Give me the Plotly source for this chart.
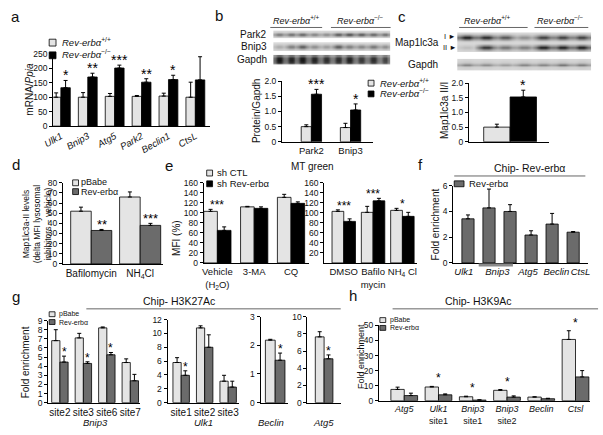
import plotly.graph_objects as go

# ---------------- data ----------------
# panel a : mRNA / Ppia
a_genes = ["Ulk1", "Bnip3", "Atg5", "Park2", "Beclin1", "CtsL"]
a_wt = [100, 100, 103, 103, 104, 100]
a_wt_err = [15, 16, 10, 3, 10, 52]
a_ko = [133, 170, 201, 152, 161, 160]
a_ko_err = [25, 13, 10, 12, 15, 80]
a_sig = ["*", "**", "***", "**", "*", ""]

# panel b : protein / Gapdh
b_proteins = ["Park2", "Bnip3"]
b_wt = [0.50, 0.47]
b_wt_err = [0.06, 0.14]
b_ko = [1.57, 1.05]
b_ko_err = [0.16, 0.20]
b_sig = ["***", "*"]
b_blot_rows = ["Park2", "Bnip3", "Gapdh"]
b_lanes_park2 = [0.5, 0.55, 0.6, 0.45, 0.4, 0.65, 0.7, 0.65, 0.6, 0.55]
b_lanes_bnip3 = [0.3, 0.6, 0.8, 0.5, 0.4, 0.8, 0.6, 0.55, 0.65, 0.5]
b_lanes_gapdh = [0.95, 0.9, 0.95, 0.9, 0.85, 0.85, 0.9, 0.8, 0.85, 0.75]

# panel c : Map1lc3a II/I
c_wt = [0.50]
c_wt_err = [0.10]
c_ko = [1.53]
c_ko_err = [0.23]
c_sig = ["*"]
c_lanes_I = [0.95, 0.9, 0.7, 0.4, 0.8, 0.8, 0.8]
c_lanes_II = [0.15, 0.85, 0.55, 0.5, 0.95, 0.95, 0.95]
c_lanes_gapdh = [0.55, 0.5, 0.4, 0.55, 0.55, 0.65, 0.6]

# panel d
d_treat = ["Bafilomycin", "NH<sub>4</sub>Cl"]
d_pbabe = [52, 66]
d_pbabe_err = [4, 5]
d_rev = [33, 38]
d_rev_err = [1, 2]
d_sig = ["**", "***"]

# panel e
e1_treat = ["Vehicle<br>(H<sub>2</sub>O)", "3-MA", "CQ"]
e1_ctl = [103, 112, 131]
e1_ctl_err = [4, 1, 6]
e1_sh = [65, 109, 119]
e1_sh_err = [7, 3, 3]
e1_sig = ["***", "", ""]
e2_treat = ["DMSO", "Bafilo<br>mycin", "NH<sub>4</sub> Cl"]
e2_ctl = [103, 101, 105]
e2_ctl_err = [3, 12, 4]
e2_sh = [83, 124, 93]
e2_sh_err = [5, 5, 8]
e2_sig = ["***", "***", "*"]

# panel f
f_tick_labels = ["Ulk1", "Bnip3", "Atg5", "Beclin", "CtsL"]
f_vals = [3.43, 4.28, 4.0, 2.17, 3.02, 2.39]
f_err = [0.3, 1.46, 0.53, 0.33, 0.83, 0.05]

# panel g
g1_sites = ["site2", "site3", "site6", "site7"]
g1_pb = [6.8, 7.1, 8.2, 4.4]
g1_pb_err = [1.2, 0.5, 0.1, 0.4]
g1_rev = [4.45, 4.3, 5.25, 2.4]
g1_rev_err = [0.65, 0.18, 0.25, 0.7]
g1_sig = ["*", "*", "*", ""]
g2_sites = ["site1", "site2", "site3"]
g2_pb = [5.8, 10.8, 3.1]
g2_pb_err = [0.7, 0.3, 0.85]
g2_rev = [3.95, 8.0, 2.25]
g2_rev_err = [0.65, 1.8, 0.85]
g2_sig = ["*", "", ""]
g3_pb = [2.18]
g3_pb_err = [0.03]
g3_rev = [1.48]
g3_rev_err = [0.25]
g3_sig = ["*"]
g4_pb = [7.65]
g4_pb_err = [0.6]
g4_rev = [5.1]
g4_rev_err = [0.45]
g4_sig = ["*"]
g_genes = ["Bnip3", "Ulk1", "Beclin", "Atg5"]

# panel h
h_sites = ["<i>Atg5</i>", "<i>Ulk1</i><br>site1", "<i>Bnip3</i><br>site1",
           "<i>Bnip3</i><br>site2", "<i>Beclin</i>", "<i>Ctsl</i>"]
h_pb = [7.5, 9.1, 2.6, 6.9, 2.4, 40.7]
h_pb_err = [1.5, 0.4, 0.4, 0.5, 0.2, 5.8]
h_rev = [3.4, 3.9, 0.4, 2.4, 1.3, 15.8]
h_rev_err = [1.6, 0.6, 0.2, 0.8, 0.3, 4.2]
h_sig = ["", "*", "*", "*", "", "*"]

# ---------------- styling / helpers ----------------
W, H = 603, 435
FONT = "Arial, 'Liberation Sans', Helvetica, sans-serif"
PALE = "#e4e4e4"
DARK = "#6b6b6b"
BLACK = "#000000"
REV = "<i>Rev-erbα</i>"

fig = go.Figure()
n_axes = [0]
shapes = []
annots = []


def P(x):
    return x / W


def Q(y):
    return 1 - y / H


def make_axes(box, xr=None, yr=None, ytickvals=None, yticktext=None,
              xtickvals=None, xticktext=None, yfont=8.5, xfont=9.5,
              xtickangle=0, hidden=False):
    n_axes[0] += 1
    n = n_axes[0]
    s = "" if n == 1 else str(n)
    x0, x1, y0, y1 = box
    xa = dict(domain=[P(x0), P(x1)], anchor="y" + s, fixedrange=True,
              showgrid=False, zeroline=False)
    ya = dict(domain=[Q(y1), Q(y0)], anchor="x" + s, fixedrange=True,
              showgrid=False, zeroline=False)
    if hidden:
        xa.update(visible=False)
        ya.update(visible=False)
    else:
        xa.update(range=xr, showline=True, linecolor="black", linewidth=1,
                  ticks="", tickvals=xtickvals if xtickvals is not None else [],
                  ticktext=xticktext, tickangle=xtickangle,
                  tickfont=dict(size=xfont, color="#111", family=FONT))
        ya.update(range=yr, showline=True, linecolor="black", linewidth=1,
                  ticks="outside", ticklen=3, tickwidth=1, tickcolor="black",
                  tickvals=ytickvals, ticktext=yticktext, tickangle=0,
                  tickfont=dict(size=yfont, color="#111", family=FONT))
    fig.update_layout({"xaxis" + s: xa, "yaxis" + s: ya})
    return "x" + s, "y" + s


def bar(xa, ya, vals, errs, color, offset, width, xs=None):
    if xs is None:
        xs = list(range(len(vals)))
    fig.add_trace(go.Bar(
        x=xs, y=vals, offset=offset, width=width, xaxis=xa, yaxis=ya,
        marker=dict(color=color, line=dict(color="black", width=0.8)),
        error_y=dict(type="data", array=errs, arrayminus=[0] * len(errs),
                     symmetric=False, color="black", thickness=1, width=2),
        showlegend=False, hoverinfo="skip"))


def stars(xa, ya, xs, tops, labels, size=13, yshift=-5):
    for x, t, s in zip(xs, tops, labels):
        if s:
            annots.append(dict(x=x, y=t, xref=xa, yref=ya, text=s, showarrow=False,
                               yanchor="bottom", yshift=yshift,
                               font=dict(size=size, family=FONT, color="black")))


def text(x, y, t, size=10, xanchor="center", angle=0, color="#111"):
    annots.append(dict(x=P(x), y=Q(y), xref="paper", yref="paper", text=t,
                       showarrow=False, xanchor=xanchor, yanchor="middle",
                       textangle=angle, font=dict(size=size, family=FONT, color=color)))


def line(x0, y0, x1, y1, color="#666", width=1):
    shapes.append(dict(type="line", xref="paper", yref="paper", x0=P(x0), x1=P(x1),
                       y0=Q(y0), y1=Q(y1), line=dict(color=color, width=width)))


def swatch(x0, y0, x1, y1, color):
    shapes.append(dict(type="rect", xref="paper", yref="paper", x0=P(x0), x1=P(x1),
                       y0=Q(y1), y1=Q(y0), fillcolor=color,
                       line=dict(color="black", width=0.8)))


GRAYS = [[0, "#dadada"], [0.5, "#7a7a7a"], [1, "#0c0c0c"]]


def blot(box, bands):
    """bands: list (top->bottom) of (lane intensities, vertical profile)"""
    xa, ya = make_axes(box, hidden=True)
    rows = []
    for lanes, prof in bands:
        cols = []
        for v in lanes:
            cols += [v * 0.6, v, v, v * 0.6]
        for p in prof:
            rows.append([c * p for c in cols])
    rows = rows[::-1]
    fig.add_trace(go.Heatmap(z=rows, xaxis=xa, yaxis=ya, colorscale=GRAYS, zmin=0,
                             zmax=1, showscale=False, zsmooth="best", hoverinfo="skip"))


BAND = [0.05, 0.5, 1.0, 0.5, 0.05]
THIN = [0.05, 0.15, 0.85, 0.15, 0.05]
FULL = [0.6, 0.95, 1.0, 0.95, 0.6]

# ---------------- panel a ----------------
xa, ya = make_axes((43, 203, 50, 124), [-0.29, 5.53], [0, 250],
                   ytickvals=[0, 50, 100, 150, 200, 250],
                   xtickvals=list(range(6)), xticktext=[f"<i>{g}</i>" for g in a_genes],
                   xtickangle=-30)
w = 0.35
bar(xa, ya, a_wt, a_wt_err, PALE, -w, w)
bar(xa, ya, a_ko, a_ko_err, BLACK, 0, w)
stars(xa, ya, [i + w / 2 for i in range(6)], [v + e for v, e in zip(a_ko, a_ko_err)], a_sig, size=14)
text(5, 12, "a", 15)
text(18, 86, "mRNA/<i>Ppia</i>", 10, angle=-90)
swatch(39, 35, 46, 42, PALE)
swatch(39, 48, 46, 55, BLACK)
text(50, 37.5, REV + "<sup>+/+</sup>", 9.5, "left")
text(50, 50.5, REV + "<sup>−/−</sup>", 9.5, "left")

# ---------------- panel b ----------------
text(213, 11, "b", 15)
text(292, 15, REV + "<sup>+/+</sup>", 9)
text(357, 15, REV + "<sup>−/−</sup>", 9)
line(265, 23, 318, 23)
line(327, 23, 388, 23)
blot((268, 388, 26, 34), [(b_lanes_park2, BAND)])
blot((268, 388, 38, 47), [(b_lanes_bnip3, BAND)])
blot((268, 388, 51, 61), [(b_lanes_gapdh, FULL)])
for lbl, yy in zip(b_blot_rows, [30, 42.5, 56]):
    text(264, yy, lbl, 10, "right")
xa, ya = make_axes((277, 370, 78, 140), [-0.75, 1.575], [0, 2],
                   ytickvals=[0, 0.5, 1, 1.5, 2], yticktext=["0", "0.5", "1.0", "1.5", "2.0"],
                   xtickvals=[0, 1], xticktext=b_proteins)
w = 0.26
bar(xa, ya, b_wt, b_wt_err, PALE, -w, w)
bar(xa, ya, b_ko, b_ko_err, BLACK, 0, w)
stars(xa, ya, [i + w / 2 for i in range(2)], [v + e for v, e in zip(b_ko, b_ko_err)], b_sig, size=14)
text(251, 108, "Protein/Gapdh", 10, angle=-90)
swatch(365, 77, 371, 83, PALE)
swatch(365, 88, 371, 94, BLACK)
text(375, 79.5, REV + "<sup>+/+</sup>", 9.5, "left")
text(375, 90.5, REV + "<sup>−/−</sup>", 9.5, "left")

# ---------------- panel c ----------------
text(400, 12, "c", 15)
text(487, 15, REV + "<sup>+/+</sup>", 9)
text(562, 15, REV + "<sup>−/−</sup>", 9)
line(458, 23, 528, 23)
line(535, 23, 590, 23)
blot((456, 593, 28, 48), [(c_lanes_I, BAND), (c_lanes_II, BAND)])
blot((456, 593, 55, 67), [(c_lanes_gapdh, THIN)])
text(439, 38, "Map1lc3a", 10, "right")
text(441, 32, "I ►", 7.5, "left")
text(439, 44, "II ►", 7.5, "left")
text(421, 61, "Gapdh", 10)
xa, ya = make_axes((468, 550, 80, 140), [-0.78, 0.74], [0, 2],
                   ytickvals=[0, 0.5, 1, 1.5, 2], yticktext=["0", "0.5", "1.0", "1.5", "2.0"])
w = 0.5
bar(xa, ya, c_wt, c_wt_err, PALE, -w, w)
bar(xa, ya, c_ko, c_ko_err, BLACK, 0, w)
stars(xa, ya, [w / 2], [c_ko[0] + c_ko_err[0]], c_sig, size=14)
text(443, 108, "Map1lc3a II/I", 10, angle=-90)

# ---------------- panel d ----------------
text(5, 163, "d", 15)
xa, ya = make_axes((53, 155, 182, 265), [-0.58, 1.46], [0, 80],
                   ytickvals=list(range(0, 90, 10)), xtickvals=[0, 1], xticktext=d_treat,
                   xfont=10)
w = 0.42
bar(xa, ya, d_pbabe, d_pbabe_err, PALE, -w, w)
bar(xa, ya, d_rev, d_rev_err, DARK, 0, w)
stars(xa, ya, [i + w / 2 for i in range(2)], [v + e for v, e in zip(d_rev, d_rev_err)], d_sig, size=13)
text(26, 224, "Map1lc3a-II levels<br>(delta MFI lysosomal<br>inhibitors − vehicle)", 8.5, angle=-90)
swatch(63, 179, 69, 185, PALE)
swatch(63, 188, 69, 194, DARK)
text(70, 181.5, "pBabe", 9, "left")
text(70, 191.5, "Rev-erbα", 9, "left")

# ---------------- panel e ----------------
text(161, 164, "e", 15)
text(308, 165, "MT green", 10)
xa, ya = make_axes((197, 305, 182, 264), [-0.37, 2.5], [0, 160],
                   ytickvals=list(range(0, 180, 20)), xtickvals=[0, 1, 2], xticktext=e1_treat)
w = 0.37
bar(xa, ya, e1_ctl, e1_ctl_err, PALE, -w, w)
bar(xa, ya, e1_sh, e1_sh_err, BLACK, 0, w)
stars(xa, ya, list(range(3)),
      [max(a + b, c + d) for a, b, c, d in zip(e1_ctl, e1_ctl_err, e1_sh, e1_sh_err)], e1_sig, size=12)
xa, ya = make_axes((320, 415, 182, 264), [-0.67, 2.5], [0, 160],
                   ytickvals=list(range(20, 180, 20)), xtickvals=[0, 1, 2], xticktext=e2_treat)
w = 0.4
bar(xa, ya, e2_ctl, e2_ctl_err, PALE, -w, w)
bar(xa, ya, e2_sh, e2_sh_err, BLACK, 0, w)
stars(xa, ya, list(range(3)),
      [max(a + b, c + d) for a, b, c, d in zip(e2_ctl, e2_ctl_err, e2_sh, e2_sh_err)], e2_sig, size=12)
text(169, 238, "MFI (%)", 10, angle=-90)
swatch(200, 169, 206, 175, PALE)
swatch(200, 180, 206, 186, BLACK)
text(209, 171.5, "sh CTL", 9.5, "left")
text(209, 182.5, "sh Rev-erbα", 9.5, "left")

# ---------------- panel f ----------------
text(419, 163, "f", 15)
text(530, 167, "Chip- Rev-erbα", 10.5)
line(453, 175, 587, 175)
xa, ya = make_axes((452, 590, 185, 264), [-0.7, 5.72], [0, 6], ytickvals=[0, 2, 4, 6],
                   xtickvals=[-0.2, 1.4, 2.85, 4.2, 5.35],
                   xticktext=[f"<i>{g}</i>" for g in f_tick_labels], xfont=9.5)
w = 0.58
bar(xa, ya, f_vals, f_err, DARK, -w / 2, w)
line(478, 266, 513, 266, "#8a8a8a", 3)
text(434, 225, "Fold enrichment", 10, angle=-90)
swatch(453, 180, 463, 186, DARK)
text(466, 183, "Rev-erbα", 9.5, "left")

# ---------------- panel g ----------------
text(5, 298, "g", 15)
text(172, 303, "Chip- H3K27Ac", 10.5)
line(77, 311, 337, 311)
xa, ya = make_axes((38, 132, 323, 407), [-0.5, 3.42], [0, 9], ytickvals=list(range(10)),
                   xtickvals=list(range(4)), xticktext=g1_sites, xfont=10)
w = 0.35
bar(xa, ya, g1_pb, g1_pb_err, PALE, -w, w)
bar(xa, ya, g1_rev, g1_rev_err, DARK, 0, w)
stars(xa, ya, [i + w / 2 for i in range(4)], [v + e for v, e in zip(g1_rev, g1_rev_err)], g1_sig, size=12)
xa, ya = make_axes((160, 233, 322, 407), [-0.58, 2.46], [0, 12], ytickvals=list(range(0, 14, 2)),
                   xtickvals=list(range(3)), xticktext=g2_sites, xfont=10)
bar(xa, ya, g2_pb, g2_pb_err, PALE, -w, w)
bar(xa, ya, g2_rev, g2_rev_err, DARK, 0, w)
stars(xa, ya, [i + w / 2 for i in range(3)], [v + e for v, e in zip(g2_rev, g2_rev_err)], g2_sig, size=12)
xa, ya = make_axes((255, 283, 319, 407), [-0.75, 0.65], [0, 3], ytickvals=[0, 1, 2, 3])
w = 0.5
bar(xa, ya, g3_pb, g3_pb_err, PALE, -w, w)
bar(xa, ya, g3_rev, g3_rev_err, DARK, 0, w)
stars(xa, ya, [w / 2], [g3_rev[0] + g3_rev_err[0]], g3_sig, size=12)
xa, ya = make_axes((303, 337, 319, 407), [-0.85, 0.85], [0, 10], ytickvals=list(range(0, 12, 2)))
w = 0.45
bar(xa, ya, g4_pb, g4_pb_err, PALE, -w, w)
bar(xa, ya, g4_rev, g4_rev_err, DARK, 0, w)
stars(xa, ya, [w / 2], [g4_rev[0] + g4_rev_err[0]], g4_sig, size=12)
for g, xx in zip(g_genes, [86, 197, 266, 319]):
    text(xx, 427, f"<i>{g}</i>", 9.5)
text(15, 366, "Fold enrichment", 10, angle=-90)
swatch(39, 314, 45, 319, PALE)
swatch(39, 322, 45, 327, DARK)
text(47, 316.5, "pBabe", 7, "left")
text(47, 324.5, "Rev-erbα", 7, "left")

# ---------------- panel h ----------------
text(350, 297, "h", 15)
text(478, 303, "Chip- H3K9Ac", 10.5)
line(390, 311, 600, 311)
xa, ya = make_axes((376, 592, 328, 405), [-0.74, 5.43], [0, 50], ytickvals=list(range(0, 60, 10)),
                   xtickvals=list(range(6)), xticktext=h_sites, xfont=9)
w = 0.39
bar(xa, ya, h_pb, h_pb_err, PALE, -w, w)
bar(xa, ya, h_rev, h_rev_err, DARK, 0, w)
stars(xa, ya, list(range(6)),
      [max(a + b, c + d) for a, b, c, d in zip(h_pb, h_pb_err, h_rev, h_rev_err)], h_sig, size=12, yshift=-1)
text(357, 360, "Fold enrichment", 9, angle=-90)
swatch(377, 320, 383, 325, PALE)
swatch(377, 328, 383, 333, DARK)
text(385, 322.5, "pBabe", 7, "left")
text(385, 330.5, "Rev-erbα", 7, "left")

fig.update_layout(width=W, height=H, autosize=False, margin=dict(l=0, r=0, t=0, b=0),
                  paper_bgcolor="white", plot_bgcolor="rgba(0,0,0,0)", barmode="overlay",
                  showlegend=False, font=dict(family=FONT, color="#111"),
                  shapes=shapes, annotations=annots)
fig.write_html("out.html", config={"displayModeBar": False},
               post_script="document.body.style.margin='0';")
